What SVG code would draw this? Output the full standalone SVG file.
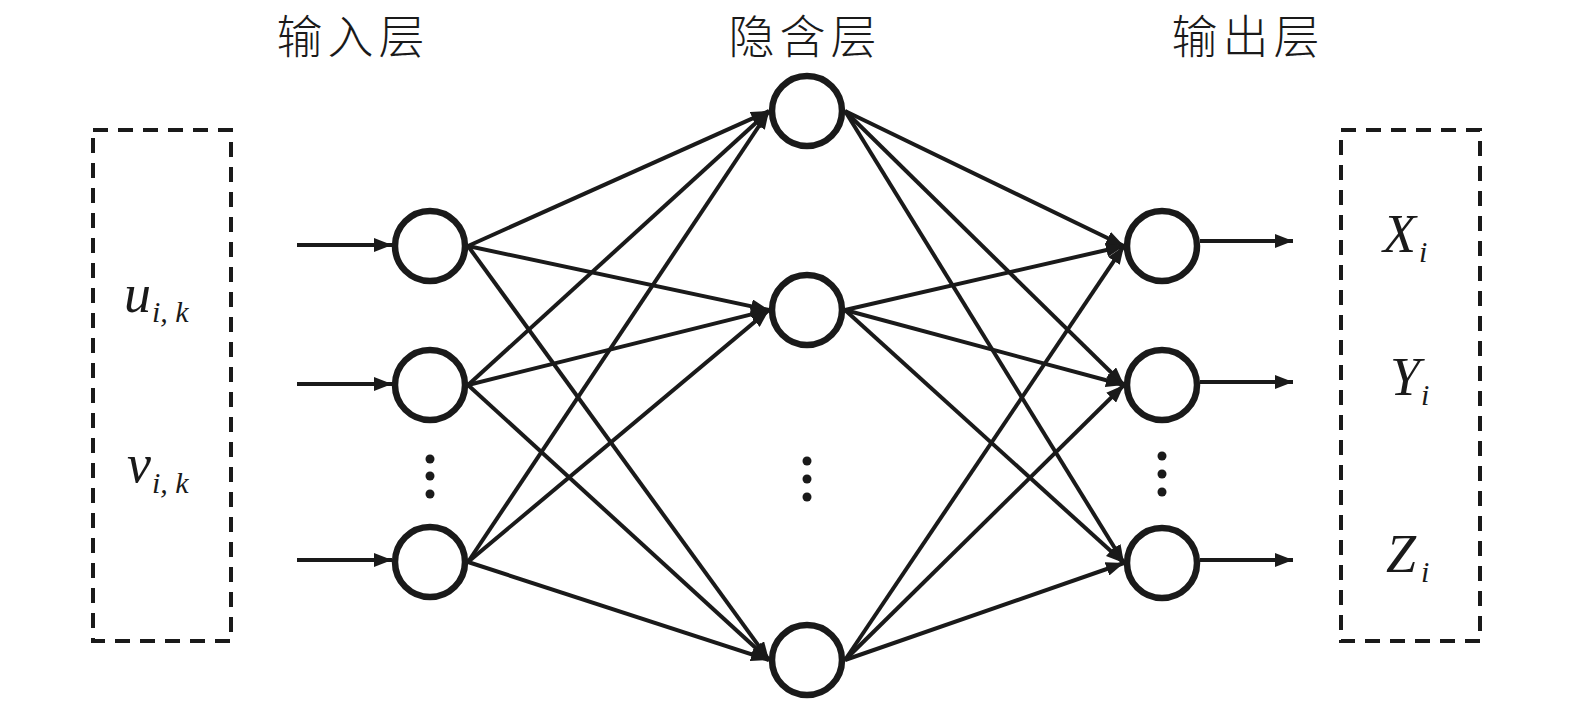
<svg xmlns="http://www.w3.org/2000/svg" width="1575" height="709" viewBox="0 0 1575 709">
<style>
.node{fill:#fff;stroke:#1a1a1a;stroke-width:6.5}
.box{fill:none;stroke:#1a1a1a;stroke-width:4;stroke-dasharray:15 10}
.edge{stroke:#1a1a1a;stroke-width:4;fill:none;marker-end:url(#ah)}
.title{font-family:"Noto Sans CJK SC",sans-serif;font-weight:300;font-size:46px;letter-spacing:5px;fill:#1a1a1a;text-anchor:middle}
.var{font-family:"Liberation Serif",serif;font-style:italic;font-size:54px;fill:#1a1a1a}
.sub{font-size:30px}
.dot{fill:#1a1a1a}
</style>
<defs>
<marker id="ah" markerUnits="userSpaceOnUse" markerWidth="20" markerHeight="14" refX="18" refY="7" orient="auto">
<path d="M0,0 L18,7 L0,14 Z" fill="#1a1a1a"/>
</marker>
</defs>
<rect width="1575" height="709" fill="#fff"/>
<g id="titles">
<text class="title" x="353" y="53">输入层</text>
<text class="title" x="805" y="53">隐含层</text>
<text class="title" x="1248" y="53">输出层</text>
</g>
<g id="input-box">
<rect class="box" x="93" y="130" width="138" height="511"/>
<text class="var" x="124" y="312">u<tspan class="sub" x="152" y="322">i, k</tspan></text>
<text class="var" x="127" y="482">v<tspan class="sub" x="152" y="493">i, k</tspan></text>
</g>
<g id="output-box">
<rect class="box" x="1341" y="130" width="139" height="511"/>
<text class="var" x="1383" y="252">X<tspan class="sub" x="1419" y="262">i</tspan></text>
<text class="var" x="1390" y="395">Y<tspan class="sub" x="1421" y="405">i</tspan></text>
<text class="var" x="1386" y="572">Z<tspan class="sub" x="1421" y="582">i</tspan></text>
</g>
<g id="connectors">
<line class="edge" x1="297" y1="245" x2="392" y2="245"/>
<line class="edge" x1="297" y1="384" x2="392" y2="384"/>
<line class="edge" x1="297" y1="560" x2="392" y2="560"/>
<line class="edge" x1="468" y1="246" x2="769" y2="111"/>
<line class="edge" x1="468" y1="246" x2="769" y2="310"/>
<line class="edge" x1="468" y1="246" x2="769" y2="660"/>
<line class="edge" x1="468" y1="385" x2="769" y2="111"/>
<line class="edge" x1="468" y1="385" x2="769" y2="310"/>
<line class="edge" x1="468" y1="385" x2="769" y2="660"/>
<line class="edge" x1="468" y1="562" x2="769" y2="111"/>
<line class="edge" x1="468" y1="562" x2="769" y2="310"/>
<line class="edge" x1="468" y1="562" x2="769" y2="660"/>
<line class="edge" x1="845" y1="111" x2="1124" y2="246"/>
<line class="edge" x1="845" y1="111" x2="1124" y2="385"/>
<line class="edge" x1="845" y1="111" x2="1124" y2="563"/>
<line class="edge" x1="845" y1="310" x2="1124" y2="246"/>
<line class="edge" x1="845" y1="310" x2="1124" y2="385"/>
<line class="edge" x1="845" y1="310" x2="1124" y2="563"/>
<line class="edge" x1="845" y1="660" x2="1124" y2="246"/>
<line class="edge" x1="845" y1="660" x2="1124" y2="385"/>
<line class="edge" x1="845" y1="660" x2="1124" y2="563"/>
<line class="edge" x1="1200" y1="241" x2="1293" y2="241"/>
<line class="edge" x1="1200" y1="382" x2="1293" y2="382"/>
<line class="edge" x1="1200" y1="560" x2="1293" y2="560"/>
</g>
<g id="in1"><circle class="node" cx="430" cy="246" r="35"/></g>
<g id="in2"><circle class="node" cx="430" cy="385" r="35"/></g>
<g id="in3"><circle class="node" cx="430" cy="562" r="35"/></g>
<g id="in-dots"><circle class="dot" cx="430" cy="459" r="4.5"/><circle class="dot" cx="430" cy="476" r="4.5"/><circle class="dot" cx="430" cy="494" r="4.5"/></g>
<g id="h1"><circle class="node" cx="807" cy="111" r="35"/></g>
<g id="h2"><circle class="node" cx="807" cy="310" r="35"/></g>
<g id="h3"><circle class="node" cx="807" cy="660" r="35"/></g>
<g id="h-dots"><circle class="dot" cx="807" cy="461" r="4.5"/><circle class="dot" cx="807" cy="479" r="4.5"/><circle class="dot" cx="807" cy="497" r="4.5"/></g>
<g id="o1"><circle class="node" cx="1162" cy="246" r="35"/></g>
<g id="o2"><circle class="node" cx="1162" cy="385" r="35"/></g>
<g id="o3"><circle class="node" cx="1162" cy="563" r="35"/></g>
<g id="o-dots"><circle class="dot" cx="1162" cy="456" r="4.5"/><circle class="dot" cx="1162" cy="474" r="4.5"/><circle class="dot" cx="1162" cy="492" r="4.5"/></g>
</svg>
